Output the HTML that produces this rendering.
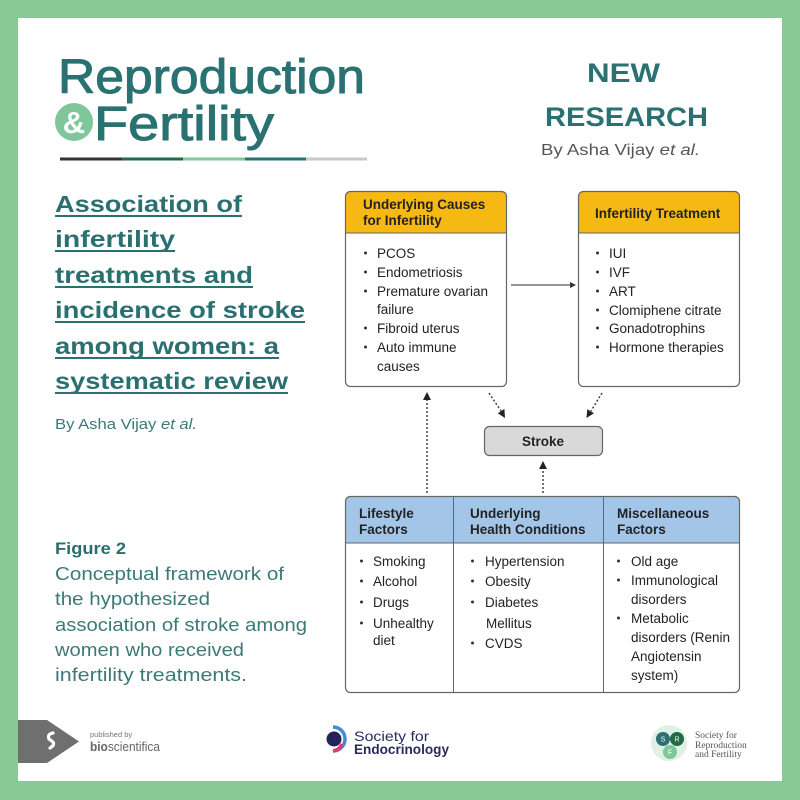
<!DOCTYPE html>
<html><head><meta charset="utf-8"><style>
html,body{margin:0;padding:0;background:#88c997;}
svg{display:block;}
</style></head><body>
<svg width="800" height="800" viewBox="0 0 800 800" xmlns="http://www.w3.org/2000/svg">
<rect x="0" y="0" width="800" height="800" fill="#88c997"/>
<rect x="18" y="18" width="764" height="763" fill="#ffffff"/>

<!-- Logo -->
<g font-family="Liberation Sans, sans-serif" fill="#2a7272" stroke="#2a7272" stroke-width="1">
<text x="58" y="93" font-size="48" textLength="307" lengthAdjust="spacingAndGlyphs">Reproduction</text>
<text x="94" y="140" font-size="48" textLength="180" lengthAdjust="spacingAndGlyphs">Fertility</text>
</g>
<circle cx="74" cy="122" r="19" fill="#7fc79a"/>
<text x="74" y="133" font-family="Liberation Sans, sans-serif" font-size="31" fill="#ffffff" text-anchor="middle" font-weight="bold">&amp;</text>
<rect x="60" y="157.5" width="62" height="3" fill="#333"/>
<rect x="122" y="157.5" width="61" height="3" fill="#1f6b4e"/>
<rect x="183" y="157.5" width="62" height="3" fill="#7fc99a"/>
<rect x="245" y="157.5" width="61" height="3" fill="#2a7174"/>
<rect x="306" y="157.5" width="61" height="3" fill="#c9c9c9"/>

<!-- NEW RESEARCH -->
<g font-family="Liberation Sans, sans-serif" fill="#2a7272" font-weight="bold">
<text x="587" y="82" font-size="27" textLength="73" lengthAdjust="spacingAndGlyphs">NEW</text>
<text x="545" y="126" font-size="27" textLength="163" lengthAdjust="spacingAndGlyphs">RESEARCH</text>
</g>
<text x="541" y="155" font-family="Liberation Sans, sans-serif" font-size="16" fill="#555" textLength="159" lengthAdjust="spacingAndGlyphs">By Asha Vijay <tspan font-style="italic">et al.</tspan></text>

<!-- Title -->
<g font-family="Liberation Sans, sans-serif" font-size="23" font-weight="bold" fill="#2b7070">
<text x="55" y="212" textLength="187" lengthAdjust="spacingAndGlyphs">Association of</text>
<text x="55" y="247" textLength="120" lengthAdjust="spacingAndGlyphs">infertility</text>
<text x="55" y="283" textLength="198" lengthAdjust="spacingAndGlyphs">treatments and</text>
<text x="55" y="318" textLength="250" lengthAdjust="spacingAndGlyphs">incidence of stroke</text>
<text x="55" y="354" textLength="224" lengthAdjust="spacingAndGlyphs">among women: a</text>
<text x="55" y="389" textLength="233" lengthAdjust="spacingAndGlyphs">systematic review</text>
</g>
<g fill="#2b7070">
<rect x="55" y="215" width="187" height="2"/>
<rect x="55" y="250" width="120" height="2"/>
<rect x="55" y="286" width="198" height="2"/>
<rect x="55" y="321" width="250" height="2"/>
<rect x="55" y="357" width="224" height="2"/>
<rect x="55" y="392" width="233" height="2"/>
</g>
<text x="55" y="429" font-family="Liberation Sans, sans-serif" font-size="15" fill="#3a7a76" textLength="142" lengthAdjust="spacingAndGlyphs">By Asha Vijay <tspan font-style="italic">et al.</tspan></text>

<!-- Caption -->
<g font-family="Liberation Sans, sans-serif" fill="#3c7a77">
<text x="55" y="554" font-size="17" font-weight="bold" fill="#2b6e6c" textLength="71" lengthAdjust="spacingAndGlyphs">Figure 2</text>
<text x="55" y="580" font-size="18" textLength="229" lengthAdjust="spacingAndGlyphs">Conceptual framework of</text>
<text x="55" y="605" font-size="18" textLength="155" lengthAdjust="spacingAndGlyphs">the hypothesized</text>
<text x="55" y="631" font-size="18" textLength="252" lengthAdjust="spacingAndGlyphs">association of stroke among</text>
<text x="55" y="656" font-size="18" textLength="189" lengthAdjust="spacingAndGlyphs">women who received</text>
<text x="55" y="681" font-size="18" textLength="192" lengthAdjust="spacingAndGlyphs">infertility treatments.</text>
</g>

<!-- Box 1 -->
<rect x="345.5" y="191.5" width="161" height="195" rx="5" fill="#fff"/>
<path d="M345.5,233 V196.5 a5,5 0 0 1 5,-5 H501.5 a5,5 0 0 1 5,5 V233 Z" fill="#f6b913"/>
<line x1="345.5" y1="233" x2="506.5" y2="233" stroke="#666" stroke-width="1"/>
<rect x="345.5" y="191.5" width="161" height="195" rx="5" fill="none" stroke="#666" stroke-width="1.2"/>
<!-- Box 2 -->
<rect x="578.5" y="191.5" width="161" height="195" rx="5" fill="#fff"/>
<path d="M578.5,233 V196.5 a5,5 0 0 1 5,-5 H734.5 a5,5 0 0 1 5,5 V233 Z" fill="#f6b913"/>
<line x1="578.5" y1="233" x2="739.5" y2="233" stroke="#666" stroke-width="1"/>
<rect x="578.5" y="191.5" width="161" height="195" rx="5" fill="none" stroke="#666" stroke-width="1.2"/>

<g font-family="Liberation Sans, sans-serif" font-size="13.5" fill="#222">
<text x="363" y="209" font-weight="bold">Underlying Causes</text>
<text x="363" y="225" font-weight="bold">for Infertility</text>
<text x="377" y="258">PCOS</text>
<text x="377" y="277">Endometriosis</text>
<text x="377" y="296">Premature ovarian</text>
<text x="377" y="314">failure</text>
<text x="377" y="333">Fibroid uterus</text>
<text x="377" y="352">Auto immune</text>
<text x="377" y="371">causes</text>

<text x="595" y="218" font-weight="bold">Infertility Treatment</text>
<text x="609" y="258">IUI</text>
<text x="609" y="277">IVF</text>
<text x="609" y="296">ART</text>
<text x="609" y="315">Clomiphene citrate</text>
<text x="609" y="333">Gonadotrophins</text>
<text x="609" y="352">Hormone therapies</text>
</g>
<g fill="#333">
<circle cx="365.5" cy="253" r="1.5"/><circle cx="365.5" cy="272" r="1.5"/><circle cx="365.5" cy="291" r="1.5"/><circle cx="365.5" cy="328" r="1.5"/><circle cx="365.5" cy="347" r="1.5"/>
<circle cx="597.5" cy="253" r="1.5"/><circle cx="597.5" cy="272" r="1.5"/><circle cx="597.5" cy="291" r="1.5"/><circle cx="597.5" cy="310" r="1.5"/><circle cx="597.5" cy="328" r="1.5"/><circle cx="597.5" cy="347" r="1.5"/>
</g>

<!-- horizontal arrow -->
<line x1="511" y1="285" x2="571" y2="285" stroke="#555" stroke-width="1.2"/>
<polygon points="576,285 570,282 570,288" fill="#333"/>

<!-- Stroke box -->
<rect x="484.5" y="426.5" width="118" height="29" rx="5" fill="#d9d9d9" stroke="#666" stroke-width="1.2"/>
<text x="543" y="446" font-family="Liberation Sans, sans-serif" font-size="13.5" font-weight="bold" fill="#222" text-anchor="middle">Stroke</text>

<!-- dotted arrows -->
<g stroke="#444" stroke-width="1.5" stroke-dasharray="2 2" fill="none">
<line x1="427" y1="493" x2="427" y2="399"/>
<line x1="489" y1="393" x2="501" y2="411"/>
<line x1="602" y1="393" x2="591" y2="411"/>
<line x1="543" y1="493" x2="543" y2="468"/>
</g>
<g fill="#222">
<polygon points="427,392 423,400 431,400"/>
<polygon points="505,418 497.8,413.3 504.4,408.9"/>
<polygon points="586.5,418 587.3,409.2 594,413.3"/>
<polygon points="543,461 539,469 547,469"/>
</g>

<!-- Table -->
<rect x="345.5" y="496.5" width="394" height="196" rx="5" fill="#fff"/>
<path d="M345.5,543 V501.5 a5,5 0 0 1 5,-5 H734.5 a5,5 0 0 1 5,5 V543 Z" fill="#a3c6e8"/>
<line x1="345.5" y1="543" x2="739.5" y2="543" stroke="#666" stroke-width="1"/>
<line x1="453.5" y1="496.5" x2="453.5" y2="692.5" stroke="#666" stroke-width="1"/>
<line x1="603.5" y1="496.5" x2="603.5" y2="692.5" stroke="#666" stroke-width="1"/>
<rect x="345.5" y="496.5" width="394" height="196" rx="5" fill="none" stroke="#666" stroke-width="1.2"/>

<g font-family="Liberation Sans, sans-serif" font-size="13.5" fill="#222">
<text x="359" y="518" font-weight="bold">Lifestyle</text>
<text x="359" y="534" font-weight="bold">Factors</text>
<text x="470" y="518" font-weight="bold">Underlying</text>
<text x="470" y="534" font-weight="bold">Health Conditions</text>
<text x="617" y="518" font-weight="bold">Miscellaneous</text>
<text x="617" y="534" font-weight="bold">Factors</text>

<text x="373" y="566">Smoking</text>
<text x="373" y="586">Alcohol</text>
<text x="373" y="607">Drugs</text>
<text x="373" y="628">Unhealthy</text>
<text x="373" y="645">diet</text>

<text x="485" y="566">Hypertension</text>
<text x="485" y="586">Obesity</text>
<text x="485" y="607">Diabetes</text>
<text x="486" y="628">Mellitus</text>
<text x="485" y="648">CVDS</text>

<text x="631" y="566">Old age</text>
<text x="631" y="585">Immunological</text>
<text x="631" y="604">disorders</text>
<text x="631" y="623">Metabolic</text>
<text x="631" y="642">disorders (Renin</text>
<text x="631" y="661">Angiotensin</text>
<text x="631" y="680">system)</text>
</g>
<g fill="#333">
<circle cx="361.5" cy="561" r="1.5"/><circle cx="361.5" cy="581" r="1.5"/><circle cx="361.5" cy="602" r="1.5"/><circle cx="361.5" cy="623" r="1.5"/>
<circle cx="472.5" cy="561" r="1.5"/><circle cx="472.5" cy="581" r="1.5"/><circle cx="472.5" cy="602" r="1.5"/><circle cx="472.5" cy="643" r="1.5"/>
<circle cx="618.5" cy="561" r="1.5"/><circle cx="618.5" cy="580" r="1.5"/><circle cx="618.5" cy="618" r="1.5"/>
</g>

<!-- Footer: bioscientifica -->
<polygon points="18,720 47,720 79,741.5 47,763 18,763" fill="#6f6f6f"/>
<path d="M53,733 q-6,1 -4,6 l4,3 q2,3 -3,6" stroke="#fff" stroke-width="3.2" fill="none" stroke-linecap="round"/>
<text x="90" y="737" font-family="Liberation Sans, sans-serif" font-size="7.5" fill="#777">published by</text>
<text x="90" y="751" font-family="Liberation Sans, sans-serif" font-size="12.5" fill="#666" textLength="70" lengthAdjust="spacingAndGlyphs"><tspan font-weight="bold">bio</tspan>scientifica</text>

<!-- Society for Endocrinology -->
<path d="M333,727 A12,12 0 0 1 333,751" stroke="#3b8fd6" stroke-width="3.5" fill="none"/>
<path d="M342,744 A12,12 0 0 1 333,751" stroke="#e23a6b" stroke-width="3.5" fill="none"/>
<circle cx="334" cy="739" r="7.5" fill="#23235a"/>
<text x="354" y="741" font-family="Liberation Sans, sans-serif" font-size="14" fill="#2a2a5c" textLength="75" lengthAdjust="spacingAndGlyphs">Society for</text>
<text x="354" y="754" font-family="Liberation Sans, sans-serif" font-size="14" font-weight="bold" fill="#2a2a5c" textLength="95" lengthAdjust="spacingAndGlyphs">Endocrinology</text>

<!-- SRF -->
<circle cx="669" cy="743" r="18" fill="#dff0e4"/>
<circle cx="663" cy="739" r="7" fill="#2d6f72"/>
<circle cx="677" cy="739" r="7" fill="#226b46"/>
<circle cx="670" cy="752" r="7" fill="#7fc79a"/>
<g font-family="Liberation Sans, sans-serif" font-size="7" fill="#fff" text-anchor="middle">
<text x="663" y="741.5">S</text><text x="677" y="741.5">R</text><text x="670" y="754.5">F</text>
</g>
<g font-family="Liberation Serif, serif" font-size="9.5" fill="#555">
<text x="695" y="738">Society for</text>
<text x="695" y="748">Reproduction</text>
<text x="695" y="757">and Fertility</text>
</g>
</svg>
</body></html>
